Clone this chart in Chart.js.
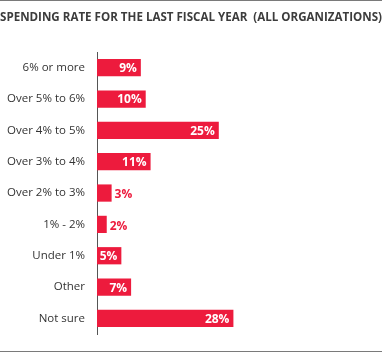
<!DOCTYPE html>
<html>
<head>
<meta charset="utf-8">
<script src="https://cdn.jsdelivr.net/npm/chart.js@4/dist/chart.umd.min.js"></script>
<style>
  html, body { margin: 0; padding: 0; background: #fff; }
  #wrap { width: 382px; height: 353px; position: relative; }
</style>
</head>
<body>
<div id="wrap"><canvas id="chart" width="382" height="353"></canvas></div>
<script>
const categories = ['6% or more', 'Over 5% to 6%', 'Over 4% to 5%', 'Over 3% to 4%', 'Over 2% to 3%', '1% - 2%', 'Under 1%', 'Other', 'Not sure'];
const values = [9, 10, 25, 11, 3, 2, 5, 7, 28];
const titleText = 'SPENDING RATE FOR THE LAST FISCAL YEAR  (ALL ORGANIZATIONS)';

const RED = '#ed1b3d';
const FONT = '"Open Sans", "Liberation Sans", sans-serif';

// value labels: white inside the bar when it fits, red just past the end otherwise
const valueLabels = {
  id: 'valueLabels',
  afterDatasetsDraw(chart) {
    const ctx = chart.ctx;
    const meta = chart.getDatasetMeta(0);
    ctx.save();
    ctx.font = 'bold 12px ' + FONT;
    ctx.textBaseline = 'middle';
    meta.data.forEach((bar, i) => {
      const txt = values[i] + '%';
      const w = ctx.measureText(txt).width;
      const barW = bar.x - bar.base;
      if (barW >= w + 6) {
        ctx.fillStyle = '#fff';
        ctx.textAlign = 'right';
        ctx.fillText(txt, bar.x - 4, bar.y + 1);
      } else {
        ctx.fillStyle = RED;
        ctx.textAlign = 'left';
        ctx.fillText(txt, bar.x + 3, bar.y + 2);
      }
    });
    ctx.restore();
  }
};

// thin grey rules at top and bottom of the panel
const frame = {
  id: 'frame',
  afterDraw(chart) {
    const ctx = chart.ctx;
    ctx.save();
    ctx.strokeStyle = '#7a7a7a';
    ctx.lineWidth = 1;
    ctx.beginPath();
    ctx.moveTo(0, 0.5); ctx.lineTo(chart.width, 0.5);
    ctx.moveTo(0, 351.5); ctx.lineTo(chart.width, 351.5);
    ctx.stroke();
    ctx.restore();
  }
};

new Chart(document.getElementById('chart'), {
  type: 'bar',
  data: {
    labels: categories,
    datasets: [{
      data: values,
      backgroundColor: RED,
      borderWidth: 0,
      barPercentage: 0.55,
      categoryPercentage: 1
    }]
  },
  options: {
    indexAxis: 'y',
    responsive: false,
    animation: false,
    layout: { padding: { left: 0, right: 0, top: 0, bottom: 15 } },
    plugins: {
      legend: { display: false },
      tooltip: { enabled: false },
      title: {
        display: true,
        text: titleText,
        align: 'start',
        color: '#3c3c3c',
        font: { family: FONT, size: 12.5, weight: 'bold', lineHeight: 1.2 },
        padding: { top: 10, bottom: 27 }
      }
    },
    scales: {
      x: { display: false, min: 0, max: 58.5 },
      y: {
        afterFit(scale) { scale.width = 97; },
        grid: { display: false, drawTicks: false },
        border: { display: true, color: '#555', width: 1 },
        ticks: {
          color: '#333',
          padding: 12,
          font: { family: FONT, size: 11.5 }
        }
      }
    }
  },
  plugins: [valueLabels, frame]
});
</script>
</body>
</html>
